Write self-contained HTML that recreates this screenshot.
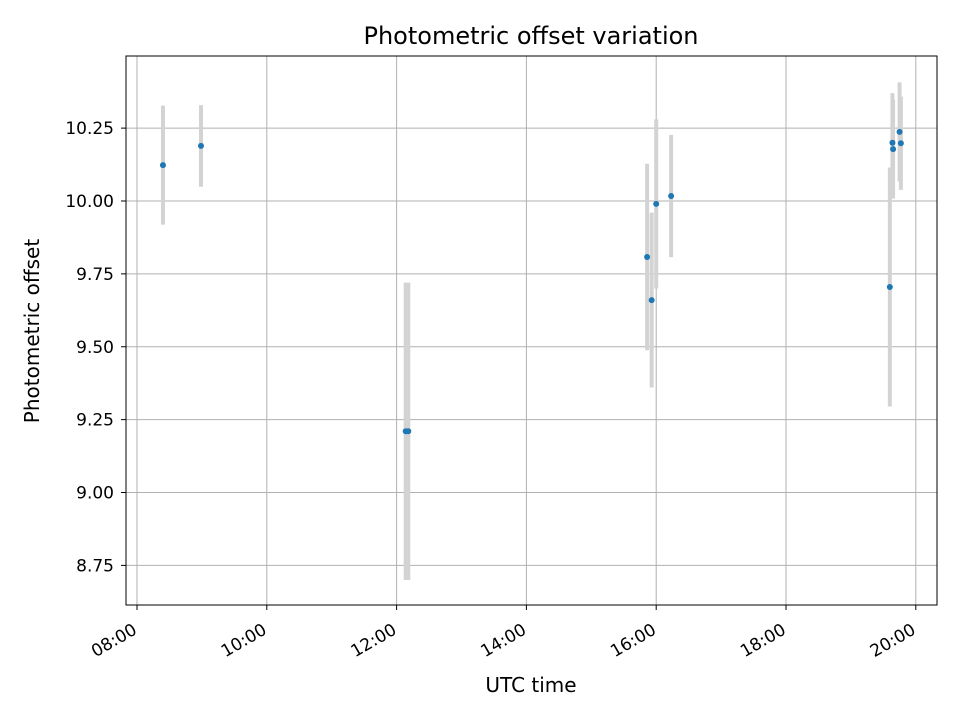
<!DOCTYPE html>
<html><head><meta charset="utf-8"><style>
body{margin:0;background:#fff;font-family:"DejaVu Sans","Liberation Sans",sans-serif;}
</style></head><body>
<svg id="chart" width="960" height="720" xmlns="http://www.w3.org/2000/svg" style="font-family:'DejaVu Sans','Liberation Sans',sans-serif">
<rect width="960" height="720" fill="#fff"/>
<text x="531" y="44" text-anchor="middle" style="font-size:24px">Photometric offset variation</text>
<text x="531" y="692" text-anchor="middle" style="font-size:20px">UTC time</text>
<text transform="translate(39,331) rotate(-90)" text-anchor="middle" style="font-size:20px">Photometric offset</text>
<g id="grid"></g><g id="errs"></g><g id="pts"></g><g id="axes"></g>
<rect x="126" y="56" width="811" height="549" fill="none" stroke="#000" stroke-width="1"/>
</svg>
<script>
const times=[8.40,8.986,12.14,12.18,15.86,15.93,16.00,16.23,19.60,19.64,19.65,19.75,19.77];
const values=[10.123,10.189,9.21,9.21,9.808,9.66,9.99,10.017,9.705,10.20,10.178,10.237,10.198];
const errors=[0.204,0.14,0.51,0.51,0.32,0.30,0.29,0.21,0.41,0.17,0.17,0.17,0.16];
const xTicks=[8,10,12,14,16,18,20];
const xTickLabels=["08:00","10:00","12:00","14:00","16:00","18:00","20:00"];
const yTicks=[8.75,9.0,9.25,9.5,9.75,10.0,10.25];
const yTickLabels=["8.75","9.00","9.25","9.50","9.75","10.00","10.25"];
const NS="http://www.w3.org/2000/svg";
const X=h=>137+(h-8)*64.9;
const Y=v=>201-(v-10)*291.5;
function mk(tag,attrs,parent,text){const e=document.createElementNS(NS,tag);for(const k in attrs)e.setAttribute(k,attrs[k]);if(text!==undefined)e.textContent=text;document.getElementById(parent).appendChild(e);return e;}
xTicks.forEach((t,i)=>{
  const x=X(t);
  const g=mk('line',{x1:x,x2:x,y1:56,y2:605,stroke:'#b0b0b0','stroke-width':1},'grid');
  
  
  const tk=mk('line',{x1:x,x2:x,y1:605,y2:610,stroke:'#000'},'axes');
  
  
  const lx=x+1, ly=633;
  const l=mk('text',{x:lx,y:ly,'text-anchor':'end',style:'font-size:17px',transform:`rotate(-30 ${lx} ${ly})`},'axes',xTickLabels[i]);
  
  
});
yTicks.forEach((t,i)=>{
  const y=Y(t);
  const g=mk('line',{x1:126,x2:937,y1:y,y2:y,stroke:'#b0b0b0','stroke-width':1},'grid');
  
  
  const tk=mk('line',{x1:121,x2:126,y1:y,y2:y,stroke:'#000'},'axes');
  
  
  const l=mk('text',{x:114,y:y+6,'text-anchor':'end',style:'font-size:17px'},'axes',yTickLabels[i]);
  
  
});
times.forEach((t,i)=>{
  const x=X(t);
  const e=mk('line',{x1:x,x2:x,y1:Y(values[i]+errors[i]),y2:Y(values[i]-errors[i]),stroke:'#d3d3d3','stroke-width':4},'errs');
  
  
  const p=mk('circle',{cx:x,cy:Y(values[i]),r:3,fill:'#1f77b4'},'pts');
  
  
});
</script>
</body></html>
